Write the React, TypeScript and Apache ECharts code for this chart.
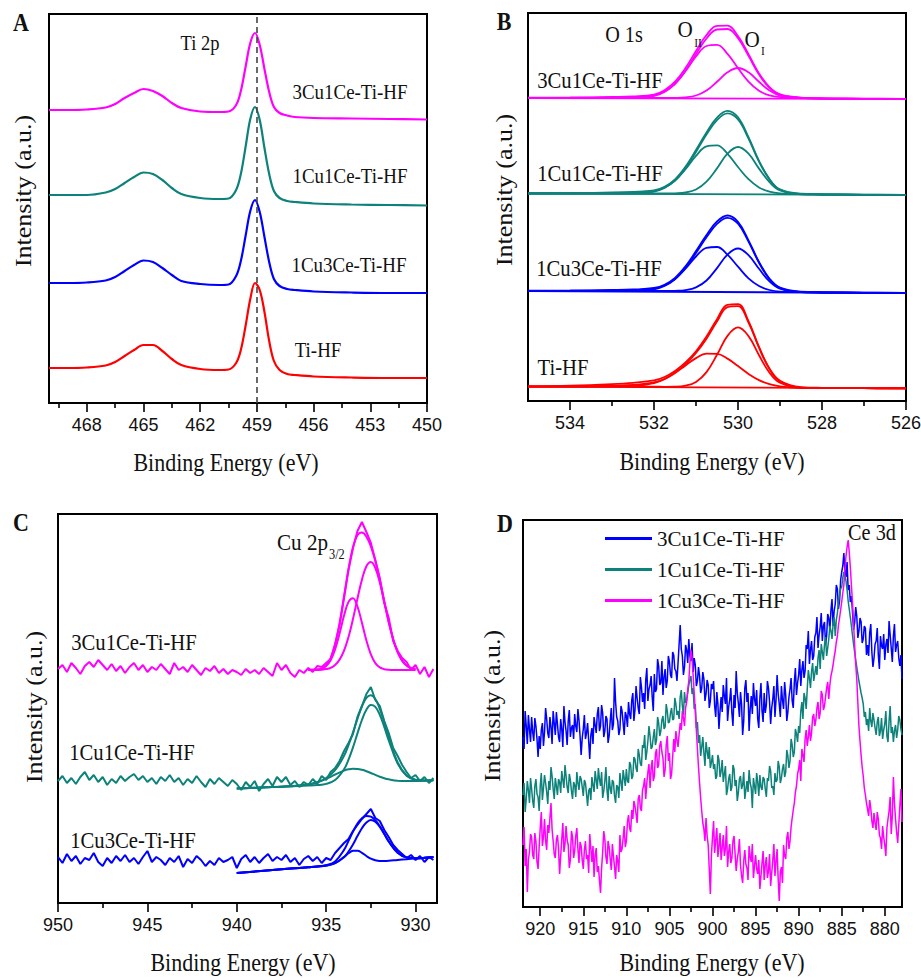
import React, { useEffect, useRef } from "react";
import * as echarts from "echarts";

// ---------- colours ----------
const MAG = "#ff00ff";
const TEAL = "#0c827a";
const BLUE = "#0000ff";
const RED = "#ff0000";

// ---------- Panel A : Ti 2p ----------
const tiEnergy = [470, 469, 468, 467, 466.5, 466, 465.5, 465, 464.5, 464, 463.5, 463, 462, 461, 460.5, 460.1, 459.85, 459.6, 459.35, 459.1, 458.85, 458.6, 458.35, 458.1, 457.8, 457.4, 457, 456, 454, 452, 450];
const ti3Cu1Ce = [293, 293, 293.5, 295.5, 299, 305, 310, 314, 312, 307, 300, 295, 291.5, 291, 291.5, 298, 312, 336, 360, 370, 358, 334, 311, 296, 290, 287.5, 286, 285, 284.5, 284, 283.5];
const ti1Cu1Ce = [208, 208, 208, 210.5, 214, 220, 226, 230.5, 229, 223, 215, 209, 205, 204, 204.5, 213, 229, 256, 284, 296, 283, 255, 229, 212, 205, 202, 201, 199.5, 198.5, 198, 197.5];
const ti1Cu3Ce = [120, 120, 120.5, 122.5, 126, 132, 138, 142.5, 141, 135, 128, 122, 119, 118, 118.5, 127, 142, 167, 192, 203, 191, 166, 141, 124, 117, 114, 113, 111.5, 110.5, 110, 110];
const tiTiHF = [35, 35, 35.5, 37.5, 41, 47, 53, 58, 58, 52, 44, 38, 34, 33, 33.5, 40, 53, 77, 104, 120, 113, 91, 62, 42, 33, 29, 28, 26.5, 25.5, 25, 25];
const tiRefLine = 459;
const tiMajorTicks = [450, 453, 456, 459, 462, 465, 468];
const tiMinorTicks = [451.5, 454.5, 457.5, 460.5, 463.5, 466.5, 469.5];

// ---------- Panel B : O 1s ----------
const oEnergy = [535, 534, 533, 532.5, 532, 531.75, 531.5, 531.25, 531, 530.75, 530.5, 530.25, 530, 529.75, 529.5, 529.25, 529, 528.5, 528, 527, 526];
const oBaseEnergy = [535, 526];
const o3Cu1CeRaw = [303.4, 303.5, 304.1, 304.6, 306.4, 310.8, 319.3, 333, 350.1, 366, 375.2, 375.4, 364.9, 346.8, 327.6, 313.8, 306.6, 303.4, 302.6, 302.3, 302.1];
const o3Cu1CeFit = [303, 303.2, 303.6, 304, 305.6, 309.5, 317.2, 330.4, 347, 362.5, 371.5, 372, 362.8, 345.1, 326.5, 313.1, 306.3, 303.2, 302.5, 302.2, 302];
const o3Cu1CeOII = [303, 303, 303, 303.2, 305.1, 309, 317.1, 329.8, 344.5, 355, 356.1, 347.1, 332.8, 319.4, 310.3, 305.6, 303.8, 303.1, 302.5, 302.2, 302];
const o3Cu1CeOI = [303, 303, 303, 303, 303, 303, 303.1, 303.6, 305.5, 310.5, 319.2, 328.7, 333, 328.7, 319.2, 310.5, 305.5, 303.1, 302.5, 302.2, 302];
const o3Cu1CeBase = [303, 302];
const o1Cu1CeRaw = [207.9, 208, 208.6, 209.1, 210.6, 214.2, 221.6, 234.3, 251, 268.6, 283.4, 290.2, 283.7, 263.8, 240.2, 222, 211.6, 207.3, 206.7, 206.4, 206.2];
const o1Cu1CeFit = [207.5, 207.7, 208.2, 208.6, 210, 213.5, 220.5, 232.8, 249.1, 266.5, 280.8, 287.6, 281.5, 262.3, 239.4, 221.5, 211.2, 207, 206.5, 206.2, 206];
const o1Cu1CeOII = [207.5, 207.5, 207.5, 207.7, 209.4, 213, 220.3, 231.8, 245.1, 254.7, 255.7, 247.2, 234, 221.8, 213.6, 209.4, 207.7, 206.8, 206.5, 206.2, 206];
const o1Cu1CeOI = [207.5, 207.5, 207.5, 207.5, 207.5, 207.5, 207.7, 208.5, 211.5, 219.3, 232.6, 247.3, 254, 247.3, 232.4, 218.8, 210.5, 206.7, 206.5, 206.2, 206];
const o1Cu1CeBase = [207.5, 206];
const o1Cu3CeRaw = [110.4, 110.5, 111, 111.5, 113, 116.2, 123.1, 134.7, 150, 166, 179.6, 185.5, 179.2, 160.7, 139, 122.3, 113.3, 109.3, 108.7, 108.4, 108.2];
const o1Cu3CeFit = [110, 110.2, 110.6, 111, 112.4, 115.5, 122, 133.2, 148.1, 163.7, 177.1, 183.2, 177.3, 159.4, 138.3, 121.8, 112.9, 109, 108.5, 108.2, 108];
const o1Cu3CeOII = [110, 110, 110, 110.1, 111.7, 115, 121.8, 132.3, 144.5, 153.2, 154, 146.3, 134.3, 122.6, 115, 111, 109.4, 108.8, 108.5, 108.2, 108];
const o1Cu3CeOI = [110, 110, 110, 110, 110, 110, 110.2, 110.9, 113.6, 120.5, 132.9, 146.4, 152.5, 145.8, 132.2, 119.6, 112.3, 108.9, 108.5, 108.2, 108];
const o1Cu3CeBase = [110, 108];
const oTiHFRaw = [14.8, 15.4, 16.9, 18.2, 20.6, 24, 30.1, 38.6, 49.8, 64.5, 81.8, 96.2, 96.8, 79.9, 54.1, 32.4, 20.2, 13.8, 13.2, 13, 12.9];
const oTiHFFit = [14.3, 14.5, 15.3, 16, 18.5, 22, 28.2, 36.9, 48, 62.3, 79.5, 93.8, 94.9, 78.5, 53.3, 31.9, 19.8, 13.4, 12.9, 12.8, 12.7];
const oTiHFOII = [14.3, 14.3, 14.6, 14.8, 18, 21.9, 28, 35.6, 42.9, 47.3, 47.1, 42.4, 34.9, 27.1, 20.9, 16.9, 14.7, 13.2, 12.9, 12.8, 12.7];
const oTiHFOI = [14.3, 14.3, 14.3, 14.3, 14.3, 14.2, 14.3, 15.3, 19.1, 28.9, 46.2, 65.1, 73.6, 64.9, 45.8, 28.3, 18.3, 13.2, 12.9, 12.8, 12.7];
const oTiHFBase = [14.3, 12.7];
const oMajorTicks = [526, 528, 530, 532, 534];
const oMinorTicks = [527, 529, 531, 533];

// ---------- Panel C : Cu 2p3/2 ----------
// instrument step 0.25 eV from 950 eV downwards
const cuEnergy = Array.from({ length: 85 }, (_, i) => 950 - i * 0.25);
const cu3Cu1CeRaw = [
  234, 238, 231, 240, 235, 229, 237, 241, 236, 243, 238, 233, 239, 232, 237, 230,
  236, 240, 233, 238, 231, 236, 233, 239, 234, 229, 240, 233, 236, 231, 238, 233,
  228, 235, 232, 237, 230, 234, 229, 233, 231, 228, 234, 230, 233, 229, 235, 231,
  227, 240, 233, 238, 230, 226, 233, 230, 235, 231, 237, 236, 240, 244, 259, 278,
  305, 333, 355, 372, 381, 371, 360, 343, 325, 300, 285, 262, 252, 245, 241, 233,
  238, 229, 236, 226, 234];
const cu1Cu1CeRaw = [
  122, 127, 120, 125, 119, 126, 131, 123, 128, 121, 126, 118, 124, 120, 127, 122,
  126, 129, 123, 127, 121, 125, 119, 126, 122, 128, 121, 125, 118, 124, 120, 127,
  121, 116, 124, 119, 125, 121, 117, 123, 119, 113, 121, 116, 122, 112, 119, 124,
  117, 126, 121, 126, 118, 122, 116, 121, 118, 124, 119, 127, 123, 131, 135, 142,
  152, 160, 169, 186, 197, 209, 216, 203, 197, 182, 170, 155, 147, 138, 131, 125,
  128, 122, 126, 120, 125];
const cu1Cu3CeRaw = [
  46, 40, 49, 42, 47, 39, 45, 43, 50, 41, 37, 45, 40, 47, 42, 48,
  41, 45, 39, 46, 52, 41, 46, 43, 38, 45, 41, 47, 36, 44, 40, 47,
  43, 37, 42, 38, 45, 41, 43, 46, 35, 44, 48, 41, 46, 40, 45, 49,
  42, 46, 43, 48, 41, 45, 38, 44, 47, 42, 46, 40, 45, 43, 50, 55,
  60, 64, 72, 78, 84, 89, 94, 85, 82, 73, 66, 58, 53, 49, 45, 48,
  43, 47, 41, 46, 43];
const cuFitEnergyA = [936, 935.5, 935.25, 935, 934.75, 934.5, 934.25, 934, 933.75, 933.5, 933.25, 933, 932.75, 932.5, 932.25, 932, 931.75, 931.5, 931.25, 931, 930.75, 930.5, 930.25, 930];
const cu3Cu1CePeak1 = [233, 233.4, 234.3, 236.9, 242.7, 253.5, 269.4, 287.4, 301.1, 304.8, 296.5, 280.3, 262.6, 248.6, 239.9, 235.6, 233.8, 233.2, 233, 233, 233, 233, 233, 233];
const cu3Cu1CePeak2 = [233, 233.1, 233.3, 233.9, 235.2, 238.1, 243.4, 252.4, 266, 284, 304.3, 323.2, 336.7, 341, 335, 320.5, 301, 280.8, 263.7, 250.8, 242.4, 237.4, 234.9, 233.8];
const cu3Cu1CeEnv = [233, 233.4, 234.3, 237.8, 244.9, 258.6, 279.8, 306.8, 334.1, 355.8, 367.8, 370.5, 366.3, 356.6, 341.9, 323.1, 301.8, 281, 263.7, 250.8, 242.4, 237.4, 234.9, 233.8];
const cuFitEnergyB = [940, 938, 937, 936, 935.5, 935, 934.5, 934, 933.75, 933.5, 933.25, 933, 932.75, 932.5, 932.25, 932, 931.75, 931.5, 931, 930.5, 930, 929.5, 929];
const cu1Cu1CeSmall = [114.4, 115.9, 116.8, 118.5, 120.7, 124.1, 128.5, 132.4, 133.7, 134.3, 134.1, 133.2, 131.8, 130, 128.1, 126.3, 124.8, 123.7, 122.3, 122, 122, 122.3, 122.7];
const cu1Cu1CeMain = [114.4, 115.9, 116.7, 117.4, 117.9, 119.1, 122.9, 133.7, 143.3, 155.6, 169.6, 183, 193.2, 197.9, 196.1, 188.2, 176.1, 162.6, 139.4, 127.2, 123.1, 122.5, 122.7];
const cu1Cu1CeEnv = [114.4, 115.9, 116.8, 118.5, 120.8, 125, 132.8, 147.2, 157.9, 170.6, 184.2, 196.5, 205.1, 207.8, 204, 194.1, 180.3, 165.5, 140.5, 127.6, 123.2, 122.5, 122.7];
const cu1Cu3CeSmall = [30, 32.9, 34.4, 35.8, 36.5, 37.5, 39.8, 45.9, 49.7, 52.2, 52.3, 50.2, 47, 44.3, 42.7, 42.1, 42.1, 42.3, 43.1, 43.8, 44.5, 45.2, 46];
const cu1Cu3CeMain = [30, 32.9, 34.4, 35.8, 36.5, 37.6, 39.8, 45.9, 51.5, 58.6, 66.9, 74.8, 80.5, 82.9, 81.2, 76.2, 69.1, 61.5, 50.3, 45.6, 44.8, 45.2, 46];
const cu1Cu3CeEnv = [30, 32.9, 34.4, 35.8, 36.5, 37.8, 41.6, 53.1, 62.1, 71.4, 79.4, 84.8, 87, 86.3, 82.7, 76.7, 69.2, 61.5, 50.3, 45.6, 44.8, 45.2, 46];
const cuMajorTicks = [930, 935, 940, 945, 950];
const cuMinorTicks = [932.5, 937.5, 942.5, 947.5];

// ---------- Panel D : Ce 3d ----------
// instrument step 0.125 eV from 922 eV downwards (8 readings per eV row)
const ceEnergy = Array.from({ length: 353 }, (_, i) => 922 - i * 0.125);
const ce3Cu1Ce = [
  170, 158, 196, 181, 163, 192, 178, 165,
  190, 175, 166, 189, 181, 168, 150, 171,
  158, 177, 184, 161, 175, 199, 188, 174,
  169, 190, 180, 163, 196, 184, 172, 195,
  183, 170, 165, 188, 178, 160, 201, 185,
  176, 162, 186, 197, 170, 179, 182, 168,
  193, 181, 175, 198, 187, 171, 152, 169,
  178, 192, 168, 174, 184, 166, 148, 172,
  179, 163, 190, 182, 174, 193, 200, 176,
  181, 202, 194, 170, 176, 191, 188, 164,
  171, 186, 199, 177, 183, 229, 205, 190,
  186, 172, 178, 201, 196, 184, 172, 195,
  191, 180, 205, 193, 188, 207, 214, 186,
  197, 221, 209, 199, 193, 230, 220, 205,
  214, 198, 227, 239, 206, 218, 222, 231,
  210, 196, 233, 215, 218, 248, 241, 222,
  224, 246, 212, 230, 238, 219, 226, 251,
  245, 232, 229, 255, 252, 238, 236, 226,
  244, 263, 282, 258, 251, 232, 240, 262,
  257, 244, 268, 251, 246, 264, 235, 249,
  242, 221, 226, 240, 231, 214, 219, 235,
  228, 206, 213, 227, 222, 199, 206, 223,
  218, 226, 201, 190, 215, 203, 178, 196,
  210, 195, 222, 211, 203, 229, 186, 200,
  207, 219, 194, 181, 212, 199, 236, 214,
  204, 190, 215, 203, 172, 186, 219, 227,
  205, 214, 176, 198, 211, 193, 224, 208,
  201, 217, 188, 179, 209, 224, 196, 185,
  214, 194, 202, 226, 219, 205, 183, 199,
  208, 221, 190, 207, 232, 213, 203, 190,
  221, 207, 198, 225, 212, 186, 195, 210,
  218, 229, 206, 199, 225, 239, 212, 224,
  232, 248, 221, 237, 246, 229, 236, 262,
  258, 276, 243, 257, 266, 247, 251, 270,
  274, 290, 259, 272, 280, 294, 266, 281,
  285, 262, 271, 293, 289, 276, 297, 308,
  281, 296, 303, 322, 318, 298, 306, 327,
  335, 341, 354, 336, 330, 345, 317, 322,
  305, 311, 296, 277, 284, 300, 291, 269,
  276, 289, 285, 264, 268, 281, 279, 252,
  262, 251, 274, 283, 255, 240, 249, 263,
  266, 279, 252, 238, 271, 261, 258, 273,
  247, 262, 268, 254, 286, 272, 259, 245,
  271, 283, 255, 262, 266, 249, 241, 252,
  228];
const ce1Cu1Ce = [
  112, 124, 95, 108, 126, 117, 104, 129,
  118, 106, 99, 121, 128, 113, 110, 96,
  121, 134, 107, 119, 132, 124, 115, 103,
  126, 117, 140, 131, 118, 108, 129, 121,
  112, 128, 125, 114, 136, 127, 119, 142,
  131, 120, 114, 133, 127, 116, 108, 125,
  122, 110, 135, 124, 117, 131, 128, 120,
  111, 127, 124, 113, 101, 116, 119, 107,
  130, 122, 115, 136, 127, 118, 139, 128,
  121, 135, 109, 116, 126, 140, 117, 106,
  131, 119, 113, 127, 125, 111, 104, 122,
  120, 109, 134, 125, 116, 137, 129, 121,
  138, 126, 124, 145, 142, 128, 131, 150,
  148, 139, 135, 158, 152, 143, 141, 162,
  159, 172, 147, 155, 166, 181, 171, 158,
  160, 170, 178, 162, 167, 190, 184, 171,
  176, 187, 191, 178, 180, 203, 196, 184,
  185, 194, 199, 187, 188, 209, 203, 192,
  196, 188, 210, 217, 201, 192, 215, 204,
  207, 214, 222, 227, 231, 213, 219, 198,
  203, 179, 185, 164, 172, 151, 160, 170,
  154, 141, 165, 156, 148, 160, 139, 145,
  152, 138, 143, 128, 131, 152, 147, 130,
  136, 147, 125, 133, 141, 112, 118, 128,
  133, 116, 120, 142, 138, 121, 127, 106,
  114, 128, 131, 118, 122, 135, 108, 117,
  126, 115, 137, 124, 119, 99, 129, 121,
  113, 134, 125, 111, 132, 120, 117, 130,
  128, 118, 110, 129, 126, 141, 136, 119,
  121, 112, 134, 125, 127, 146, 140, 124,
  129, 138, 143, 130, 135, 157, 151, 139,
  146, 168, 162, 150, 155, 178, 173, 165,
  181, 174, 196, 205, 188, 214, 209, 198,
  218, 237, 229, 219, 236, 244, 226, 233,
  241, 232, 249, 257, 238, 263, 255, 247,
  262, 270, 251, 259, 268, 281, 276, 268,
  283, 290, 271, 287, 294, 305, 312, 318,
  320, 329, 335, 331, 326, 317, 306, 298,
  290, 281, 272, 263, 255, 247, 240, 233,
  226, 220, 214, 209, 203, 190, 195, 182,
  188, 176, 199, 186, 180, 194, 187, 179,
  172, 185, 190, 171, 176, 189, 168, 177,
  183, 196, 171, 165, 186, 201, 174, 180,
  165, 176, 182, 169, 177, 191, 187, 178,
  172];
const ce1Cu3Ce = [
  62, 80, 41, 58, 15, 47, 55, 73,
  70, 52, 48, 74, 66, 45, 38, 60,
  79, 95, 61, 70, 88, 66, 57, 82,
  74, 89, 104, 78, 66, 53, 49, 67,
  72, 58, 33, 51, 68, 84, 55, 63,
  81, 67, 62, 39, 47, 76, 70, 49,
  56, 71, 79, 58, 44, 65, 61, 47,
  38, 57, 66, 48, 52, 34, 73, 59,
  45, 61, 30, 52, 59, 35, 41, 27,
  14, 39, 55, 76, 68, 50, 43, 66,
  60, 48, 37, 63, 51, 40, 28, 52,
  46, 35, 72, 55, 58, 69, 81, 60,
  66, 85, 92, 79, 75, 97, 88, 106,
  101, 93, 84, 108, 112, 99, 96, 117,
  121, 129, 108, 124, 135, 143, 119, 138,
  147, 126, 131, 153, 158, 139, 142, 161,
  166, 155, 149, 130, 137, 162, 171, 146,
  154, 128, 133, 150, 168, 155, 176, 167,
  160, 173, 184, 177, 196, 189, 181, 199,
  205, 218, 226, 244, 257, 249, 232, 214,
  196, 177, 158, 140, 124, 109, 96, 84,
  78, 66, 89, 71, 62, 38, 13, 52,
  70, 86, 54, 67, 79, 50, 61, 74,
  47, 60, 72, 51, 58, 81, 40, 55,
  63, 44, 49, 66, 71, 53, 36, 48,
  55, 68, 42, 31, 24, 46, 57, 43,
  39, 27, 61, 50, 45, 63, 29, 41,
  52, 38, 33, 47, 18, 31, 44, 56,
  27, 42, 50, 29, 36, 53, 21, 34,
  47, 63, 31, 45, 58, 28, 6, 35,
  40, 24, 62, 51, 48, 69, 75, 58,
  66, 80, 89, 97, 104, 115, 121, 133,
  138, 147, 126, 158, 152, 145, 168, 177,
  161, 170, 182, 166, 174, 190, 193, 181,
  187, 199, 205, 188, 194, 216, 212, 197,
  201, 210, 219, 225, 208, 222, 231, 236,
  242, 250, 256, 265, 271, 282, 289, 297,
  305, 314, 322, 338, 351, 360, 367, 355,
  340, 322, 305, 284, 262, 243, 228, 204,
  181, 166, 152, 140, 131, 119, 112, 104,
  98, 91, 107, 99, 86, 79, 94, 84,
  77, 95, 88, 72, 69, 58, 81, 70,
  62, 51, 79, 88, 96, 110, 73, 91,
  130, 104, 88, 75, 64, 82, 101, 118,
  85];
const ceMajorTicks = [880, 885, 890, 895, 900, 905, 910, 915, 920];
const ceMinorTicks = [882.5, 887.5, 892.5, 897.5, 902.5, 907.5, 912.5, 917.5];
const ceNames = ["3Cu1Ce-Ti-HF", "1Cu1Ce-Ti-HF", "1Cu3Ce-Ti-HF"];

// ---------- helpers ----------
const pairs = (xs: number[], ys: number[]) => xs.map((x, i) => [x, ys[i]]);

const SERIF = '"Liberation Serif", "Times New Roman", serif';
const SANS = '"Liberation Sans", Arial, sans-serif';
const SQ = 0.88; // horizontal squeeze of the original figure's lettering

function xAxesFor(grid: number, min: number, max: number, major: number[], minor: number[]) {
  return [
    {
      type: "value", gridIndex: grid, position: "bottom", min, max, inverse: true,
      axisLine: { show: true, onZero: false, lineStyle: { color: "#000", width: 2 } },
      axisTick: { show: true, customValues: major, length: 9, lineStyle: { color: "#000", width: 1.6 } },
      axisLabel: { show: true, customValues: major, margin: 13, fontSize: 18, fontFamily: SANS, color: "#111" },
      splitLine: { show: false },
    },
    {
      type: "value", gridIndex: grid, position: "bottom", min, max, inverse: true,
      axisLine: { show: false, onZero: false },
      axisTick: { show: true, customValues: minor, length: 5, lineStyle: { color: "#000", width: 1.6 } },
      axisLabel: { show: false },
      splitLine: { show: false },
    },
  ];
}

function yAxisFor(grid: number, max: number) {
  return {
    type: "value", gridIndex: grid, min: 0, max,
    axisLine: { show: true, lineStyle: { color: "#000", width: 2 } },
    axisTick: { show: false }, axisLabel: { show: false }, splitLine: { show: false },
  };
}

function line(name: string, xIdx: number, yIdx: number, xs: number[], ys: number[], color: string, width: number, smooth: number | boolean, extra: any = {}) {
  return {
    type: "line", name, xAxisIndex: xIdx, yAxisIndex: yIdx,
    data: pairs(xs, ys), showSymbol: false, symbol: "none", smooth,
    lineStyle: { color, width }, itemStyle: { color }, silent: true,
    emphasis: { disabled: true },
    ...extra,
  };
}

function txt(text: string, x: number, y: number, size: number, opts: any = {}) {
  const rot = opts.rot || 0;
  return {
    type: "text", x, y, rotation: rot, z: 100, silent: true,
    scaleX: rot ? 1 : SQ,
    scaleY: rot ? SQ : 1,
    style: {
      text, fill: "#111",
      font: `${opts.bold ? "bold " : ""}${size}px ${SERIF}`,
      align: opts.align || "center", verticalAlign: "middle",
    },
  };
}

export default function App() {
  const ref = useRef<HTMLDivElement>(null);

  useEffect(() => {
    if (!ref.current) return;
    const chart = echarts.init(ref.current, undefined, { renderer: "svg" });

    const grids = [
      { left: 49, top: 14, width: 378, height: 389 },
      { left: 528, top: 13, width: 378, height: 388 },
      { left: 58, top: 514, width: 379, height: 389 },
      { left: 523, top: 520, width: 379, height: 387 },
    ].map((g) => ({ ...g, show: true, borderColor: "#000", borderWidth: 2, backgroundColor: "transparent", containLabel: false, outerBoundsMode: "none" }));

    const xAxis = [
      ...xAxesFor(0, 450, 470, tiMajorTicks, tiMinorTicks),
      ...xAxesFor(1, 526, 535, oMajorTicks, oMinorTicks),
      ...xAxesFor(2, 928.8, 950, cuMajorTicks, cuMinorTicks),
      ...xAxesFor(3, 878, 922, ceMajorTicks, ceMinorTicks),
    ];
    const yAxis = [yAxisFor(0, 389), yAxisFor(1, 388), yAxisFor(2, 389), yAxisFor(3, 387)];

    const sm = 0.35;
    const series: any[] = [
      // Panel A
      line("A 3Cu1Ce", 0, 0, tiEnergy, ti3Cu1Ce, MAG, 2.2, sm),
      line("A 1Cu1Ce", 0, 0, tiEnergy, ti1Cu1Ce, TEAL, 2.2, sm),
      line("A 1Cu3Ce", 0, 0, tiEnergy, ti1Cu3Ce, BLUE, 2.2, sm),
      line("A Ti-HF", 0, 0, tiEnergy, tiTiHF, RED, 2.2, sm, {
        markLine: {
          silent: true, symbol: ["none", "none"], label: { show: false },
          lineStyle: { type: [6, 4], color: "#444", width: 1.6 },
          data: [{ xAxis: tiRefLine }], z: 10,
        },
      }),
    ];

    // Panel B
    const oSets: [number[], number[], number[], number[], number[], string, string][] = [
      [o3Cu1CeBase, o3Cu1CeOI, o3Cu1CeOII, o3Cu1CeFit, o3Cu1CeRaw, MAG, "3Cu1Ce"],
      [o1Cu1CeBase, o1Cu1CeOI, o1Cu1CeOII, o1Cu1CeFit, o1Cu1CeRaw, TEAL, "1Cu1Ce"],
      [o1Cu3CeBase, o1Cu3CeOI, o1Cu3CeOII, o1Cu3CeFit, o1Cu3CeRaw, BLUE, "1Cu3Ce"],
      [oTiHFBase, oTiHFOI, oTiHFOII, oTiHFFit, oTiHFRaw, RED, "TiHF"],
    ];
    oSets.forEach(([base, oi, oii, fit, raw, c, n]) => {
      series.push(line(`B ${n} base`, 2, 1, oBaseEnergy, base, c, 1.8, false));
      series.push(line(`B ${n} OI`, 2, 1, oEnergy, oi, c, 1.8, 0.4));
      series.push(line(`B ${n} OII`, 2, 1, oEnergy, oii, c, 1.8, 0.4));
      series.push(line(`B ${n} fit`, 2, 1, oEnergy, fit, c, 1.8, 0.4));
      series.push(line(`B ${n} raw`, 2, 1, oEnergy, raw, c, 1.8, 0.4));
    });

    // Panel C
    series.push(line("C 3Cu1Ce raw", 4, 2, cuEnergy, cu3Cu1CeRaw, MAG, 2, false));
    series.push(line("C 3Cu1Ce p1", 4, 2, cuFitEnergyA, cu3Cu1CePeak1, MAG, 2, 0.4));
    series.push(line("C 3Cu1Ce p2", 4, 2, cuFitEnergyA, cu3Cu1CePeak2, MAG, 2, 0.4));
    series.push(line("C 3Cu1Ce env", 4, 2, cuFitEnergyA, cu3Cu1CeEnv, MAG, 2, 0.4));
    series.push(line("C 1Cu1Ce raw", 4, 2, cuEnergy, cu1Cu1CeRaw, TEAL, 2, false));
    series.push(line("C 1Cu1Ce small", 4, 2, cuFitEnergyB, cu1Cu1CeSmall, TEAL, 2, 0.4));
    series.push(line("C 1Cu1Ce main", 4, 2, cuFitEnergyB, cu1Cu1CeMain, TEAL, 2, 0.4));
    series.push(line("C 1Cu1Ce env", 4, 2, cuFitEnergyB, cu1Cu1CeEnv, TEAL, 2, 0.4));
    series.push(line("C 1Cu3Ce raw", 4, 2, cuEnergy, cu1Cu3CeRaw, BLUE, 2, false));
    series.push(line("C 1Cu3Ce small", 4, 2, cuFitEnergyB, cu1Cu3CeSmall, BLUE, 2, 0.4));
    series.push(line("C 1Cu3Ce main", 4, 2, cuFitEnergyB, cu1Cu3CeMain, BLUE, 2, 0.4));
    series.push(line("C 1Cu3Ce env", 4, 2, cuFitEnergyB, cu1Cu3CeEnv, BLUE, 2, 0.4));

    // Panel D
    series.push(line(ceNames[0], 6, 3, ceEnergy, ce3Cu1Ce, BLUE, 1.5, false));
    series.push(line(ceNames[1], 6, 3, ceEnergy, ce1Cu1Ce, TEAL, 1.5, false));
    series.push(line(ceNames[2], 6, 3, ceEnergy, ce1Cu3Ce, MAG, 1.5, false));

    const graphic = [
      // Panel A
      txt("A", 21, 23, 25, { bold: true }),
      txt("Ti 2p", 200, 43, 21),
      txt("3Cu1Ce-Ti-HF", 350, 92, 21.5),
      txt("1Cu1Ce-Ti-HF", 350, 176, 21.5),
      txt("1Cu3Ce-Ti-HF", 349, 265, 21.5),
      txt("Ti-HF", 318, 350, 21.5),
      txt("Binding Energy (eV)", 226, 463, 25),
      txt("Intensity (a.u.)", 23, 191, 26, { rot: Math.PI / 2 }),
      // Panel B
      txt("B", 504, 22, 25, { bold: true }),
      txt("O 1s", 624, 35, 23),
      txt("O", 685, 29, 24),
      txt("II", 698, 43, 13),
      txt("O", 752, 39, 24),
      txt("I", 763, 51, 13),
      txt("3Cu1Ce-Ti-HF", 600, 80, 23.5),
      txt("1Cu1Ce-Ti-HF", 600, 173, 23.5),
      txt("1Cu3Ce-Ti-HF", 599, 268, 23.5),
      txt("Ti-HF", 563, 367, 23.5),
      txt("Binding Energy (eV)", 712, 462, 25),
      txt("Intensity (a.u.)", 504, 190, 26, { rot: Math.PI / 2 }),
      // Panel C
      txt("C", 21, 523, 25, { bold: true }),
      txt("Cu 2p", 277, 542, 24, { align: "left" }),
      txt("3/2", 329, 554, 14, { align: "left" }),
      txt("3Cu1Ce-Ti-HF", 134, 642, 23.5),
      txt("1Cu1Ce-Ti-HF", 132, 752, 23.5),
      txt("1Cu3Ce-Ti-HF", 133, 840, 23.5),
      txt("Binding Energy (eV)", 243, 963, 25),
      txt("Intensity (a.u.)", 34, 707, 26, { rot: Math.PI / 2 }),
      // Panel D
      txt("D", 505, 524, 25, { bold: true }),
      txt("Ce 3d", 872, 533, 23),
      txt("Binding Energy (eV)", 712, 963, 25),
      txt("Intensity (a.u.)", 492, 706, 26, { rot: Math.PI / 2 }),
    ];

    chart.setOption({
      animation: false,
      backgroundColor: "#fff",
      grid: grids,
      xAxis,
      yAxis,
      series,
      graphic,
      legend: {
        data: ceNames, orient: "vertical", left: 600, top: 523,
        itemWidth: 47, itemHeight: 3, icon: "rect", itemGap: 10,
        selectedMode: false,
        textStyle: { fontFamily: SERIF, fontSize: 21, color: "#111" },
      },
    });

    return () => chart.dispose();
  }, []);

  return (
    <div
      ref={ref}
      style={{ position: "fixed", left: 0, top: 0, width: 921, height: 978, background: "#fff" }}
    />
  );
}
